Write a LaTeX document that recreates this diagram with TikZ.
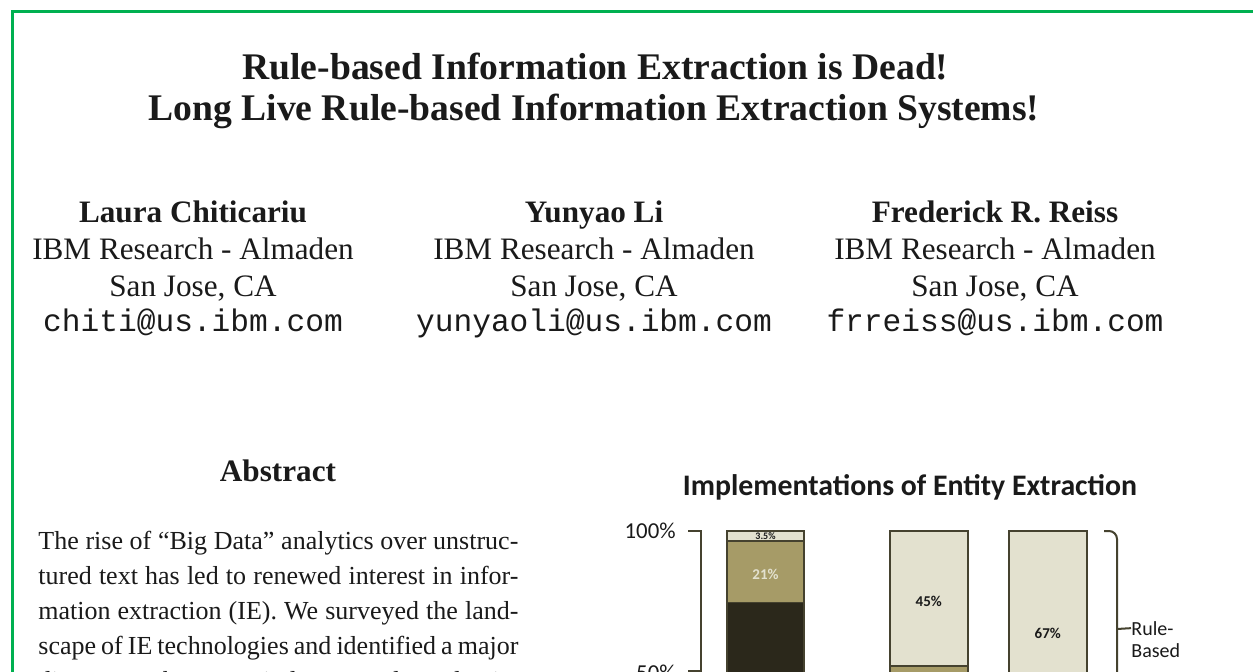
\documentclass[tikz,border=0pt]{standalone}
\usepackage{fontspec}
\setmainfont{Liberation Serif}
\setmonofont{Liberation Mono}
\newfontfamily\chartfont{Carlito}
\definecolor{pagegreen}{HTML}{00B050}
\definecolor{barlight}{HTML}{E3E1CF}
\definecolor{bartan}{HTML}{A69B67}
\definecolor{bardark}{HTML}{2B281B}
\definecolor{barline}{HTML}{45422F}
\definecolor{ink}{HTML}{1A1A1A}
\begin{document}
\begin{tikzpicture}[x=0.5pt,y=-0.5pt,text=ink]
  \tikzstyle{titleline}=[anchor=base,inner sep=0pt,font=\fontsize{18.8}{22}\selectfont\bfseries]
  \tikzstyle{author}=[anchor=base,inner sep=0pt,font=\fontsize{15.6}{18}\selectfont]
  \tikzstyle{bar}=[draw=barline,line width=0.8pt]
  \tikzstyle{pct}=[inner sep=0pt,font=\chartfont\bfseries\fontsize{7.5}{9}\selectfont]
  \tikzstyle{axis}=[inner sep=0pt,anchor=base east,font=\chartfont\fontsize{11.4}{13}\selectfont]
  \def\bt{531}	% top of bars (100%)
  \def\bb{720}	% bars run off the page
  \useasboundingbox (0,0) rectangle (1253,671);
  \clip (0,0) rectangle (1253,671);
  \fill[white] (0,0) rectangle (1253,671);
  % page frame
  \draw[pagegreen,line width=1.5pt] (12.5,800) -- (12.5,11.5) -- (1300,11.5);
  % title
  \node[titleline] (title1) at (595.5,79) {Rule-based Information Extraction is Dead!};
  \node[titleline] (title2) at (594,120) {Long Live Rule-based Information Extraction Systems!};
  % authors
  \foreach \x/\who/\mail [count=\i] in {193/Laura Chiticariu/chiti, 594/Yunyao Li/yunyaoli, 995/Frederick R. Reiss/frreiss}{
    \node[author,font=\fontsize{15.6}{18}\selectfont\bfseries] (name\i) at (\x,222) {\who};
    \node[author] (org\i) at (\x,259) {IBM Research - Almaden};
    \node[author] (city\i) at (\x,296) {San Jose, CA};
    \node[author,font=\fontsize{15.6}{18}\selectfont\ttfamily] (mail\i) at (\x,331) {\mail @us.ibm.com};
  }
  % abstract
  \node[author,font=\fontsize{15.6}{18}\selectfont\bfseries] (abshead) at (278,481) {Abstract};
  \foreach \txt [count=\i] in {{The rise of ``Big Data'' analytics over unstruc-},
      {tured text has led to renewed interest in infor-},
      {mation extraction (IE). We surveyed the land-},
      {scape of IE technologies and identified a major},
      {disconnect between industry and academia:}}
    \node[anchor=base west,inner sep=0pt,font=\fontsize{13}{17}\selectfont] (abs\i) at (38,{549+35*(\i-1)}) {\makebox[240pt][s]{\txt}};
  % chart
  \node[anchor=base,inner sep=0pt,font=\chartfont\bfseries\fontsize{14.9}{17}\selectfont] (charttitle) at (910,495) {Implementations of Entity Extraction};
  \node[axis] (p100) at (676,538) {100\%};
  \node[axis] (p50) at (676,680) {50\%};
  \draw[barline,line width=1pt] (688,\bt) -- (701,\bt) -- (701,\bb);
  \draw[barline,line width=1pt] (688,671) -- (701,671);
  % bar 1
  \path[bar,fill=bardark] (727,602.5) rectangle (804,\bb);
  \path[bar,fill=bartan] (727,540.7) rectangle (804,602.5);
  \path[bar,fill=barlight] (727,\bt) rectangle (804,540.7);
  \node[pct,font=\chartfont\bfseries\fontsize{5}{6}\selectfont] (b1a) at (765.5,536) {3.5\%};
  \node[pct,text=barlight] (b1b) at (765.5,574) {21\%};
  % bar 2
  \path[bar,fill=bartan] (890,665.7) rectangle (967.7,\bb);
  \path[bar,fill=barlight] (890,\bt) rectangle (967.7,665.7);
  \node[pct] (b2a) at (928.8,601) {45\%};
  % bar 3
  \path[bar,fill=barlight] (1008.7,\bt) rectangle (1087,\bb);
  \node[pct] (b3a) at (1047.8,633) {67\%};
  % brace
  \draw[barline,line width=1pt,rounded corners=4pt] (1104,\bt) -- (1117,\bt) -- (1117,\bb);
  \coordinate (tip) at (1117,629);
  \node[inner sep=0pt,anchor=base west,font=\chartfont\fontsize{10}{11}\selectfont] (rule) at (1131,635) {Rule-};
  \node[inner sep=0pt,anchor=base west,font=\chartfont\fontsize{10}{11}\selectfont] (based) at (1131,657) {Based};
  \draw[barline,line width=1pt] (tip) -- (rule.west);
\end{tikzpicture}
\end{document}
